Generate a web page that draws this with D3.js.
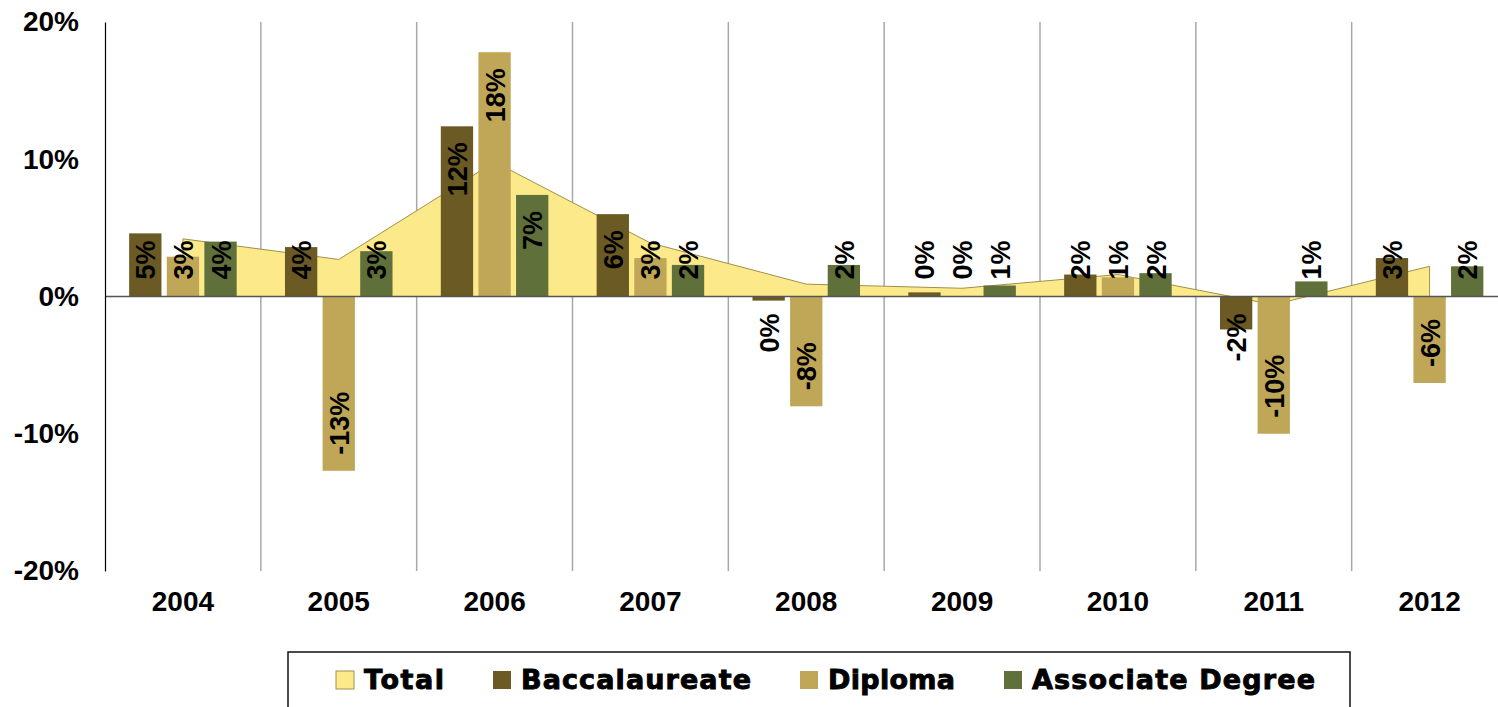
<!DOCTYPE html>
<html>
<head>
<meta charset="utf-8">
<script src="https://cdn.jsdelivr.net/npm/d3@7/dist/d3.min.js"></script>
<style>
  html, body { margin: 0; padding: 0; background: #ffffff; }
  svg { display: block; }
</style>
</head>
<body>
<svg id="chart" width="1498" height="707"></svg>
<script>
// ---- data (percent change) ----
const years = ["2004", "2005", "2006", "2007", "2008", "2009", "2010", "2011", "2012"];
const total = [4.2, 2.7, 9.8, 3.9, 0.9, 0.6, 1.6, -0.6, 2.2];
const baccalaureate = [4.6, 3.6, 12.4, 6.0, -0.3, 0.3, 1.6, -2.4, 2.8];
const diploma = [2.9, -12.7, 17.8, 2.8, -8.0, 0.0, 1.4, -10.0, -6.3];
const associate = [4.0, 3.3, 7.4, 2.3, 2.3, 0.8, 1.7, 1.1, 2.2];
const yTicks = [-20, -10, 0, 10, 20];
const seriesNames = ["Baccalaureate", "Diploma", "Associate Degree"];
const legendNames = ["Total", "Baccalaureate", "Diploma", "Associate Degree"];

// ---- styles ----
const colors = {
  "Total": "#FCE98A",
  "Baccalaureate": "#6B5A23",
  "Diploma": "#BFA757",
  "Associate Degree": "#60703A"
};
const totalStroke = "#A0904C";
const labelFont = "'Liberation Sans', Arial, sans-serif";

const svg = d3.select("#chart");
const plot = { left: 105, right: 1507.5, top: 22, bottom: 571 };

const x0 = d3.scaleBand().domain(years).range([plot.left, plot.right]).paddingInner(0).paddingOuter(0);
const x1 = d3.scaleBand().domain(seriesNames).range([0, x0.bandwidth()]).paddingInner(0.141).paddingOuter(0.642);
const y = d3.scaleLinear().domain([-20, 20]).range([plot.bottom, plot.top]);
const y0 = y(0);

const seriesValues = {
  "Baccalaureate": baccalaureate,
  "Diploma": diploma,
  "Associate Degree": associate
};

// ---- vertical gridlines at category boundaries ----
svg.append("g").selectAll("line")
  .data(years.slice(1))
  .join("line")
  .attr("x1", d => x0(d)).attr("x2", d => x0(d))
  .attr("y1", plot.top).attr("y2", plot.bottom)
  .attr("stroke", "#A8A8A8").attr("stroke-width", 1.5);

// ---- Total area ----
const area = d3.area()
  .x((d, i) => x0(years[i]) + x0.bandwidth() / 2)
  .y0(y0)
  .y1(d => y(d));
svg.append("path")
  .datum(total)
  .attr("d", area)
  .attr("fill", colors["Total"])
  .attr("stroke", totalStroke)
  .attr("stroke-width", 1);

// ---- bars ----
const barData = [];
years.forEach((yr, i) => {
  seriesNames.forEach(s => {
    barData.push({ year: yr, series: s, value: seriesValues[s][i] });
  });
});

svg.append("g").selectAll("rect")
  .data(barData)
  .join("rect")
  .attr("x", d => x0(d.year) + x1(d.series))
  .attr("width", x1.bandwidth())
  .attr("y", d => Math.min(y(d.value), y0))
  .attr("height", d => Math.abs(y(d.value) - y0))
  .attr("fill", d => colors[d.series]);

// ---- zero line ----
svg.append("line")
  .attr("x1", plot.left).attr("x2", plot.right)
  .attr("y1", y0).attr("y2", y0)
  .attr("stroke", "#555555").attr("stroke-width", 1.5);

// ---- data labels (rotated) ----
function fmt(v) {
  const r = Math.round(v);
  return (r === 0 ? "0" : String(r)) + "%";
}
const labels = svg.append("g").selectAll("text")
  .data(barData)
  .join("text")
  .text(d => fmt(d.value))
  .attr("font-family", labelFont)
  .attr("font-weight", "bold")
  .attr("font-size", 27)
  .attr("fill", "#000")
  .attr("text-anchor", "middle")
  .attr("dominant-baseline", "central");

labels.each(function(d) {
  const len = this.getComputedTextLength();
  const cx = x0(d.year) + x1(d.series) + x1.bandwidth() / 2 + 1;
  let cy;
  if (d.value >= 0) {
    const top = Math.min(y(d.value) + 16, y0 - 17 - len);
    cy = top + len / 2;
  } else {
    const bottom = Math.max(y(d.value) - 16, y0 + 17 + len);
    cy = bottom - len / 2;
  }
  d3.select(this).attr("transform", `translate(${cx},${cy}) rotate(-90)`);
});

// ---- y axis ----
const yAxis = svg.append("g")
  .attr("transform", `translate(${plot.left},0)`)
  .call(d3.axisLeft(y).tickValues(yTicks).tickFormat(d => d + "%").tickSize(0).tickSizeOuter(0).tickPadding(26));
yAxis.select(".domain").attr("stroke", "#000").attr("stroke-width", 1.2);
yAxis.selectAll("text")
  .attr("font-family", labelFont)
  .attr("font-weight", "bold")
  .attr("font-size", 28)
  .attr("fill", "#000");

// ---- x axis (category labels) ----
const xAxis = svg.append("g")
  .attr("transform", `translate(0,${plot.bottom})`)
  .call(d3.axisBottom(x0).tickSize(0).tickPadding(20));
xAxis.select(".domain").remove();
xAxis.selectAll("text")
  .attr("font-family", labelFont)
  .attr("font-weight", "bold")
  .attr("font-size", 28)
  .attr("fill", "#000");

// ---- legend ----
svg.append("rect")
  .attr("x", 288).attr("y", 652)
  .attr("width", 1062).attr("height", 90)
  .attr("fill", "#fff")
  .attr("stroke", "#111").attr("stroke-width", 1.5);

const legendTextWidths = [80, 230, 127, 283];
let lx = 336;
const lg = svg.append("g");
legendNames.forEach((name, i) => {
  lg.append("rect")
    .attr("x", lx).attr("y", 671)
    .attr("width", 18).attr("height", 18)
    .attr("fill", colors[name])
    .attr("stroke", name === "Total" ? totalStroke : "none")
    .attr("stroke-width", 1);
  lg.append("text")
    .attr("x", lx + 28).attr("y", 689)
    .attr("font-family", "'DejaVu Sans', sans-serif")
    .attr("font-weight", "bold")
    .attr("font-size", 27)
    .attr("fill", "#000")
    .attr("stroke", "#000")
    .attr("stroke-width", 0.9)
    .attr("textLength", legendTextWidths[i])
    .attr("lengthAdjust", "spacing")
    .text(name);
  lx += 28 + legendTextWidths[i] + 49;
});
</script>
</body>
</html>
